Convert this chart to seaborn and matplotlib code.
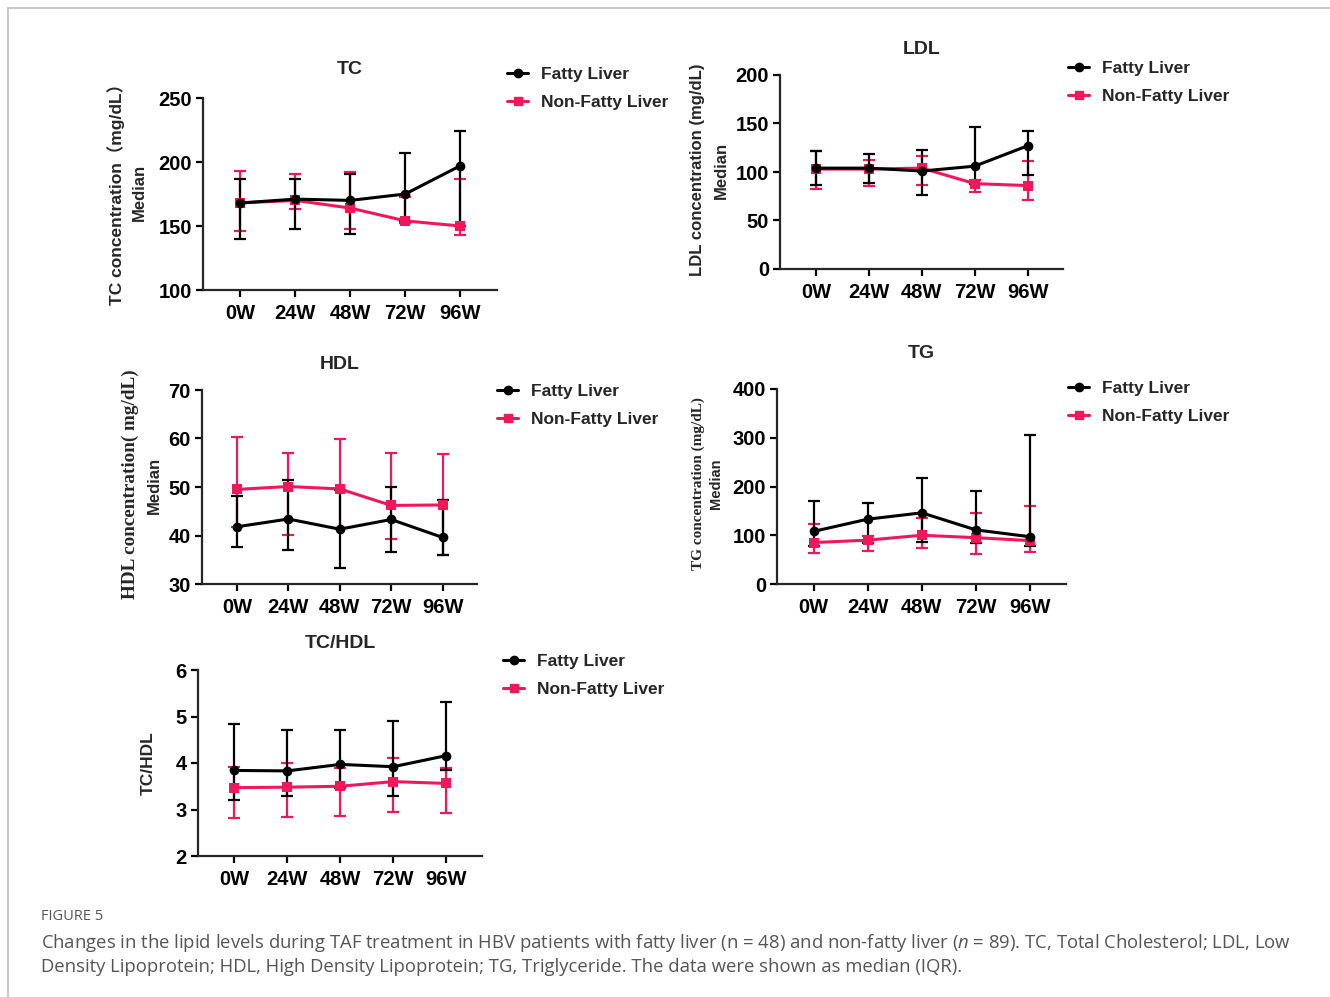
import numpy as np
import pandas as pd
import matplotlib
matplotlib.use("Agg")
import matplotlib.pyplot as plt
from matplotlib.lines import Line2D
import seaborn as sns

# ---------------- data ----------------
weeks = ["0W", "24W", "48W", "72W", "96W"]
groups = ["Fatty Liver", "Non-Fatty Liver"]

tc_fat_med = [168, 171, 170, 175, 197]
tc_fat_q1 = [140, 148, 144, 154, 150]
tc_fat_q3 = [187, 187, 191, 207, 224]
tc_non_med = [168, 170, 164, 154, 150]
tc_non_q1 = [146, 163, 148, 152, 143]
tc_non_q3 = [193, 191, 192, 173, 187]

ldl_fat_med = [104, 104, 101, 106, 127]
ldl_fat_q1 = [87, 89, 76, 88, 97]
ldl_fat_q3 = [122, 119, 123, 146, 142]
ldl_non_med = [103, 103, 104, 88, 86]
ldl_non_q1 = [82, 86, 87, 79, 71]
ldl_non_q3 = [122, 112, 117, 92, 111]

hdl_fat_med = [41.8, 43.4, 41.3, 43.3, 39.6]
hdl_fat_q1 = [37.6, 37.1, 33.4, 36.7, 36.0]
hdl_fat_q3 = [48.2, 51.4, 49.3, 49.9, 47.3]
hdl_non_med = [49.5, 50.1, 49.6, 46.2, 46.3]
hdl_non_q1 = [41.8, 40.1, 41.5, 39.2, 36.0]
hdl_non_q3 = [60.4, 57.1, 59.8, 57.1, 56.9]

tg_fat_med = [108, 133, 146, 111, 97]
tg_fat_q1 = [77, 84, 86, 84, 78]
tg_fat_q3 = [171, 167, 217, 190, 305]
tg_non_med = [85, 90, 100, 95, 89]
tg_non_q1 = [63, 67, 74, 62, 66]
tg_non_q3 = [124, 98, 136, 146, 160]

ratio_fat_med = [3.84, 3.83, 3.97, 3.92, 4.16]
ratio_fat_q1 = [3.20, 3.28, 3.46, 3.30, 3.85]
ratio_fat_q3 = [4.83, 4.70, 4.71, 4.91, 5.32]
ratio_non_med = [3.47, 3.48, 3.50, 3.60, 3.56]
ratio_non_q1 = [2.82, 2.84, 2.86, 2.95, 2.93]
ratio_non_q3 = [3.92, 3.99, 3.90, 4.10, 3.90]

# ---------------- style ----------------
sns.set_style("ticks")
plt.rcParams["font.family"] = ["Liberation Sans", "Noto Sans CJK SC", "DejaVu Sans"]
plt.rcParams["mathtext.fontset"] = "custom"
plt.rcParams["mathtext.it"] = "Open Sans:italic"
plt.rcParams["mathtext.rm"] = "Open Sans"

BLACK = "#000000"
PINK = "#F0185C"
palette = {"Fatty Liver": BLACK, "Non-Fatty Liver": PINK}
markers = {"Fatty Liver": "o", "Non-Fatty Liver": "s"}

W, H = 1330, 997
fig = plt.figure(figsize=(W / 100, H / 100), dpi=100)


def px_ax(l, r, t, b):
    return fig.add_axes([l / W, 1 - b / H, (r - l) / W, (b - t) / H])


def ftxt(x, y, s, **kw):
    fig.text(x / W, 1 - y / H, s, **kw)


def panel(ax, title, title_pad, fat, non, ylim, yticks):
    med_f, q1_f, q3_f = fat
    med_n, q1_n, q3_n = non
    df = pd.DataFrame({
        "week": list(range(len(weeks))) * 2,
        "value": list(med_n) + list(med_f),
        "group": ["Non-Fatty Liver"] * len(weeks) + ["Fatty Liver"] * len(weeks),
    })
    x = np.arange(len(weeks))
    # IQR error bars
    for med, q1, q3, col in [(med_n, q1_n, q3_n, PINK), (med_f, q1_f, q3_f, BLACK)]:
        med = np.asarray(med, float)
        yerr = np.vstack([med - np.asarray(q1, float), np.asarray(q3, float) - med])
        ax.errorbar(x, med, yerr=yerr, fmt="none", ecolor=col, elinewidth=1.6,
                    capsize=4, capthick=1.6, zorder=2)
    sns.lineplot(data=df, x="week", y="value", hue="group", style="group",
                 palette=palette, markers=markers, dashes=False,
                 hue_order=["Non-Fatty Liver", "Fatty Liver"],
                 style_order=["Non-Fatty Liver", "Fatty Liver"],
                 linewidth=2.2, markersize=7, markeredgewidth=0,
                 ax=ax, legend=False, zorder=3)
    ax.set_xlim(-0.68, 4.67)
    ax.set_ylim(*ylim)
    ax.set_yticks(yticks)
    ax.set_xticks(x)
    ax.set_xticklabels(weeks)
    ax.set_xlabel("")
    ax.set_ylabel("")
    for s in ["top", "right"]:
        ax.spines[s].set_visible(False)
    for s in ["left", "bottom"]:
        ax.spines[s].set_linewidth(1.6)
    ax.tick_params(axis="both", direction="out", length=5, width=1.6,
                   labelsize=14.5, pad=3, colors="black")
    ax.tick_params(axis="x", pad=5)
    for lab in ax.get_xticklabels() + ax.get_yticklabels():
        lab.set_fontweight("bold")
    ax.set_title(title, fontsize=14, fontweight="bold", pad=title_pad)
    ax.set_facecolor("none")


def legend_at(x, y):
    handles = [
        Line2D([], [], color=BLACK, marker="o", lw=2.2, markersize=6),
        Line2D([], [], color=PINK, marker="s", lw=2.2, markersize=6),
    ]
    fig.legend(handles, groups, loc="upper left",
               bbox_to_anchor=(x / W, 1 - y / H), bbox_transform=fig.transFigure,
               frameon=False, borderpad=0, handlelength=1.25, handletextpad=0.75,
               labelspacing=0.75, prop={"weight": "bold", "size": 12.5})


# ---- TC ----
ax1 = px_ax(203, 497, 98, 290)
panel(ax1, "TC", 17, (tc_fat_med, tc_fat_q1, tc_fat_q3), (tc_non_med, tc_non_q1, tc_non_q3),
      (100, 250), [100, 150, 200, 250])
ftxt(116, 190, "TC concentration（mg/dL）", rotation=90, ha="center", va="center",
     fontsize=12.5, fontweight="bold", family=["Liberation Sans", "Noto Sans CJK SC"])
ftxt(139, 192, "Median", rotation=90, ha="center", va="center", fontsize=12, fontweight="bold")
legend_at(498, 58)

# ---- LDL ----
ax2 = px_ax(780, 1063, 75, 269)
panel(ax2, "LDL", 15, (ldl_fat_med, ldl_fat_q1, ldl_fat_q3), (ldl_non_med, ldl_non_q1, ldl_non_q3),
      (0, 200), [0, 50, 100, 150, 200])
ftxt(697, 170, "LDL concentration (mg/dL)", rotation=90, ha="center", va="center",
     fontsize=12, fontweight="bold")
ftxt(721, 170, "Median", rotation=90, ha="center", va="center", fontsize=12, fontweight="bold")
legend_at(1059, 52)

# ---- HDL ----
ax3 = px_ax(202, 477, 390, 584)
panel(ax3, "HDL", 15, (hdl_fat_med, hdl_fat_q1, hdl_fat_q3), (hdl_non_med, hdl_non_q1, hdl_non_q3),
      (30, 70), [30, 40, 50, 60, 70])
ftxt(130, 484, "HDL concentration( mg/dL)", rotation=90, ha="center", va="center",
     fontsize=13.8, fontweight="bold", family="Liberation Serif")
ftxt(154, 485, "Median", rotation=90, ha="center", va="center", fontsize=12, fontweight="bold")
legend_at(488, 375)

# ---- TG ----
ax4 = px_ax(777, 1066, 389, 584)
panel(ax4, "TG", 22, (tg_fat_med, tg_fat_q1, tg_fat_q3), (tg_non_med, tg_non_q1, tg_non_q3),
      (0, 400), [0, 100, 200, 300, 400])
ftxt(698, 484, "TG concentration (mg/dL)", rotation=90, ha="center", va="center",
     fontsize=11, fontweight="bold", family="Liberation Serif")
ftxt(716, 484, "Median", rotation=90, ha="center", va="center", fontsize=10.5, fontweight="bold")
legend_at(1059, 372)

# ---- TC/HDL ----
ax5 = px_ax(198, 482, 670, 856)
panel(ax5, "TC/HDL", 16, (ratio_fat_med, ratio_fat_q1, ratio_fat_q3),
      (ratio_non_med, ratio_non_q1, ratio_non_q3), (2, 6), [2, 3, 4, 5, 6])
ftxt(148, 763, "TC/HDL", rotation=90, ha="center", va="center", fontsize=12.5, fontweight="bold")
legend_at(494, 645)

# ---- border and caption ----
fig.add_artist(Line2D([8 / W, 1.0], [1 - 8 / H, 1 - 8 / H], color="#bdbdbd", lw=1.2,
                      transform=fig.transFigure))
fig.add_artist(Line2D([8 / W, 8 / W], [0.0, 1 - 8 / H], color="#bdbdbd", lw=1.2,
                      transform=fig.transFigure))

cap_kw = dict(family="Open Sans", color="#555555", ha="left", va="center")
ftxt(41, 916, "FIGURE 5", fontsize=10.5, **cap_kw)
ftxt(41, 943, "Changes in the lipid levels during TAF treatment in HBV patients with fatty liver "
     "(n = 48) and non-fatty liver ($\\mathit{n}$ = 89). TC, Total Cholesterol; LDL, Low",
     fontsize=13.3, **cap_kw)
ftxt(41, 967, "Density Lipoprotein; HDL, High Density Lipoprotein; TG, Triglyceride. "
     "The data were shown as median (IQR).", fontsize=13.3, **cap_kw)

fig.savefig("out.png", dpi=100, facecolor="white")
